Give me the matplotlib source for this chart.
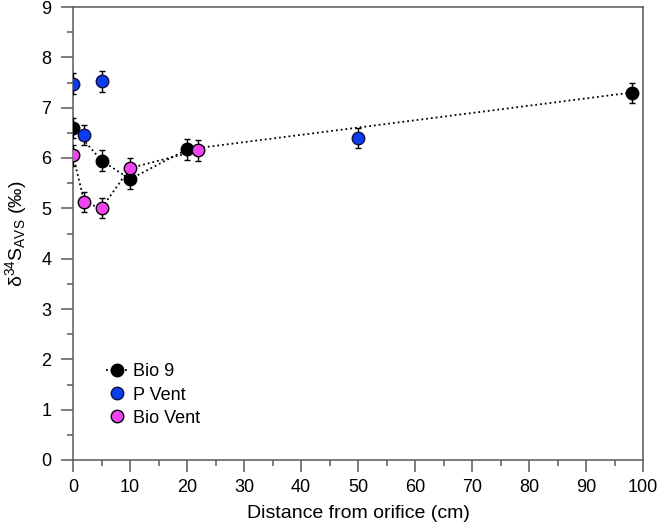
import matplotlib
matplotlib.use("Agg")
import matplotlib.pyplot as plt
from matplotlib.ticker import MultipleLocator

plt.rcParams["font.family"] = ["Liberation Sans", "DejaVu Sans"]
plt.rcParams["mathtext.fontset"] = "custom"
plt.rcParams["mathtext.rm"] = "Liberation Sans"
plt.rcParams["mathtext.it"] = "Liberation Sans:italic"
plt.rcParams["mathtext.bf"] = "Liberation Sans:bold"

# Bio 9
bio9_x = [0, 5, 10, 20, 98]
bio9_y = [6.6, 5.95, 5.58, 6.17, 7.3]
bio9_err = [0.2, 0.2, 0.2, 0.2, 0.2]

# P Vent
pvent_x = [0, 5, 2, 50]
pvent_y = [7.48, 7.52, 6.45, 6.4]
pvent_err = [0.2, 0.2, 0.2, 0.2]

# Bio Vent
biovent_x = [0, 2, 5, 10, 22]
biovent_y = [6.05, 5.12, 5.0, 5.8, 6.15]
biovent_err = [0.2, 0.2, 0.2, 0.2, 0.2]

grey = "#5a5a5a"
blue = "#0a3cf0"
magenta = "#f044f0"
ms = 9
mew = 1.0

fig = plt.figure(figsize=(6.58, 5.29), dpi=100)
ax = fig.add_axes([73 / 658, 69 / 529, (643 - 73) / 658, (460 - 7) / 529])

err_kw = dict(ecolor="black", elinewidth=1.0, capsize=2.5, capthick=1.0)

ax.errorbar(bio9_x, bio9_y, yerr=bio9_err, fmt="o", ls=":", color="black", lw=1.3,
            mfc="black", mec="black", ms=ms, mew=mew, zorder=3, **err_kw)
ax.errorbar(biovent_x, biovent_y, yerr=biovent_err, fmt="o", ls=":", color="black", lw=1.3,
            mfc=magenta, mec="black", ms=ms, mew=mew, zorder=4, **err_kw)
ax.errorbar(pvent_x, pvent_y, yerr=pvent_err, fmt="o", ls="none",
            mfc=blue, mec="#101040", ms=ms, mew=mew, zorder=5, **err_kw)

# legend handles
h1, = ax.plot([], [], marker="o", ls=":", color="black", lw=1.3, mfc="black", mec="black", ms=ms)
h2, = ax.plot([], [], marker="o", ls="none", mfc=blue, mec="#101040", ms=ms, mew=mew)
h3, = ax.plot([], [], marker="o", ls="none", mfc=magenta, mec="black", ms=ms, mew=mew)
ax.legend([h1, h2, h3], ["Bio 9", "P Vent", "Bio Vent"], loc="upper left",
          bbox_to_anchor=(0.046, 0.229), borderaxespad=0, borderpad=0.4, frameon=False,
          fontsize=13, handlelength=1.16, handletextpad=0.3, labelspacing=0.34)

ax.set_xlim(0, 100)
ax.set_ylim(0, 9)
ax.xaxis.set_major_locator(MultipleLocator(10))
ax.xaxis.set_minor_locator(MultipleLocator(5))
ax.yaxis.set_major_locator(MultipleLocator(1))
ax.yaxis.set_minor_locator(MultipleLocator(0.5))

for sp in ax.spines.values():
    sp.set_color(grey)
    sp.set_linewidth(1.1)
ax.tick_params(which="major", direction="out", length=8.5, width=1.1, color=grey, labelsize=13)
ax.tick_params(which="minor", direction="out", length=4.3, width=1.1, color=grey)
ax.tick_params(axis="x", which="major", pad=5.4)
ax.tick_params(axis="y", which="major", pad=7)

ax.set_xlabel("Distance from orifice (cm)", fontsize=14, labelpad=6.5)
ax.set_ylabel("δ$^{34}$S$_{\\mathrm{AVS}}$ (‰)", fontsize=14, labelpad=9)

fig.savefig("out.png", dpi=100)
